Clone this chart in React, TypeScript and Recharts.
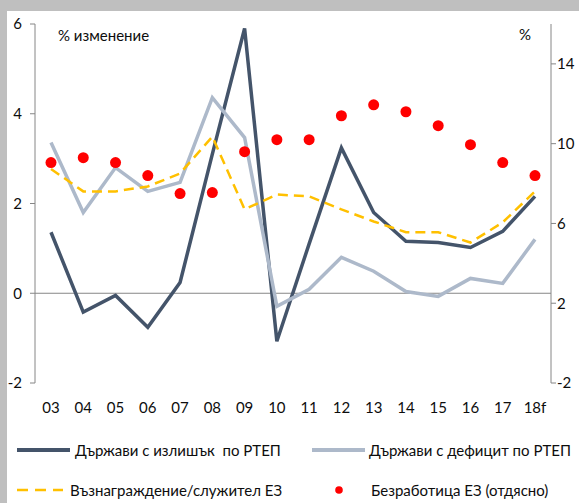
import React from 'react';
import {
  LineChart,
  Line,
  XAxis,
  YAxis,
  ReferenceLine,
} from 'recharts';

// years on the category axis
const years = ['03', '04', '05', '06', '07', '08', '09', '10', '11', '12', '13', '14', '15', '16', '17', '18f'];

// % change, left axis
const surplus = [1.36, -0.42, -0.05, -0.76, 0.24, 3.1, 5.9, -1.07, 1.1, 3.24, 1.8, 1.16, 1.13, 1.02, 1.38, 2.16];
const deficit = [3.36, 1.8, 2.8, 2.27, 2.47, 4.36, 3.47, -0.29, 0.09, 0.8, 0.49, 0.04, -0.07, 0.33, 0.22, 1.2];
const compensation = [2.77, 2.27, 2.27, 2.38, 2.67, 3.49, 1.87, 2.2, 2.16, 1.87, 1.6, 1.36, 1.36, 1.13, 1.58, 2.27];

// %, right axis
const unemployment = [9.05, 9.3, 9.05, 8.4, 7.5, 7.55, 9.6, 10.2, 10.2, 11.4, 11.95, 11.6, 10.9, 9.95, 9.05, 8.4];

const leftTicks = [-2, 0, 2, 4, 6];
const rightTicks = [-2, 2, 6, 10, 14];

const data = years.map((year, i) => ({
  year,
  surplus: surplus[i],
  deficit: deficit[i],
  compensation: compensation[i],
  unemployment: unemployment[i],
}));

const FONT = 'Lato, "Open Sans", sans-serif';
const FS = 15;
const TEXT = '#0d0d0d';
const AXIS = '#868686';

const DARK = '#44546a';
const LIGHT = '#adb9ca';
const YELLOW = '#ffc000';
const RED = '#ff0000';

const legendText: React.CSSProperties = {
  position: 'absolute',
  fontFamily: FONT,
  fontSize: FS,
  color: TEXT,
  whiteSpace: 'pre',
  lineHeight: '16px',
};

const App: React.FC = () => {
  return (
    <div style={{ position: 'absolute', left: 0, top: 0, width: 579, height: 503, background: '#bfbfbf', overflow: 'hidden' }}>
      <div style={{ position: 'absolute', left: 7, top: 11, width: 572, height: 492, background: '#ffffff' }} />

      <div style={{ position: 'absolute', left: 0, top: 0 }}>
        <LineChart width={579} height={503} data={data} margin={{ top: 24, right: 0, bottom: 0, left: 0 }}>
          <XAxis
            dataKey="year"
            height={120}
            padding={{ left: 16, right: 16 }}
            axisLine={false}
            tickLine={false}
            tickMargin={13}
            interval={0}
            tick={{ fill: TEXT, fontSize: FS, fontFamily: FONT }}
          />
          <YAxis
            yAxisId="left"
            width={35}
            domain={[-2, 6]}
            ticks={leftTicks}
            stroke={AXIS}
            tickSize={5}
            tickMargin={8}
            tick={{ fill: TEXT, fontSize: FS, fontFamily: FONT }}
          />
          <YAxis
            yAxisId="right"
            orientation="right"
            width={28}
            domain={[-2, 16]}
            ticks={rightTicks}
            stroke={AXIS}
            tickSize={5}
            tickMargin={1}
            tick={{ fill: TEXT, fontSize: FS, fontFamily: FONT, textAnchor: 'start' }}
          />
          <ReferenceLine yAxisId="left" y={0} stroke={AXIS} strokeWidth={1} />
          <Line yAxisId="left" type="linear" dataKey="surplus" stroke={DARK} strokeWidth={3.5} dot={false} isAnimationActive={false} />
          <Line yAxisId="left" type="linear" dataKey="deficit" stroke={LIGHT} strokeWidth={3.5} dot={false} isAnimationActive={false} />
          <Line
            yAxisId="left"
            type="linear"
            dataKey="compensation"
            stroke={YELLOW}
            strokeWidth={2.5}
            strokeDasharray="10 6"
            dot={false}
            isAnimationActive={false}
          />
          <Line
            yAxisId="right"
            type="linear"
            dataKey="unemployment"
            stroke="none"
            dot={{ r: 5.5, fill: RED, stroke: 'none' }}
            activeDot={false}
            isAnimationActive={false}
          />
        </LineChart>
      </div>

      {/* axis captions */}
      <div style={{ ...legendText, left: 58, top: 27 }}>% изменение</div>
      <div style={{ ...legendText, left: 519, top: 26 }}>%</div>

      {/* legend */}
      <svg style={{ position: 'absolute', left: 0, top: 430 }} width={579} height={73}>
        <line x1={17} y1={20} x2={70} y2={20} stroke={DARK} strokeWidth={4} />
        <line x1={312} y1={20} x2={365} y2={20} stroke={LIGHT} strokeWidth={4} />
        <line x1={17} y1={60} x2={63} y2={60} stroke={YELLOW} strokeWidth={2.5} strokeDasharray="11 7" />
        <circle cx={339} cy={60} r={3.8} fill={RED} />
      </svg>
      <div style={{ ...legendText, left: 75, top: 442 }}>{'Държави с излишък  по РТЕП'}</div>
      <div style={{ ...legendText, left: 369, top: 442 }}>Държави с дефицит по РТЕП</div>
      <div style={{ ...legendText, left: 70, top: 482 }}>Възнаграждение/служител ЕЗ</div>
      <div style={{ ...legendText, left: 371, top: 482 }}>Безработица ЕЗ (отдясно)</div>
    </div>
  );
};

export default App;
